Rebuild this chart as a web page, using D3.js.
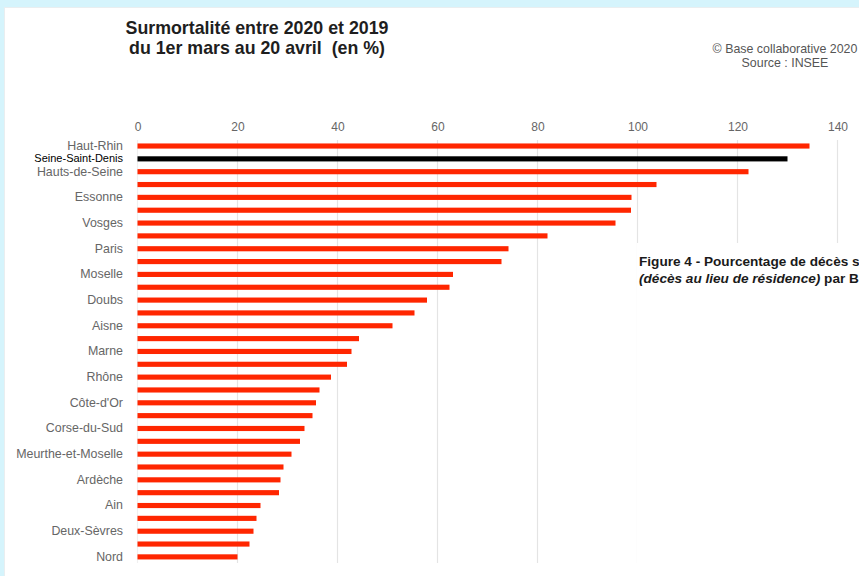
<!DOCTYPE html>
<html lang="fr">
<head>
<meta charset="utf-8">
<title>Surmortalité 2020 / 2019</title>
<script src="https://d3js.org/d3.v7.min.js"></script>
<style>
  html, body { margin: 0; padding: 0; background: #d5f4fc; }
  svg { display: block; font-family: "Liberation Sans", Arial, sans-serif; }
  .title { font-size: 17.8px; font-weight: bold; fill: #1e1e1e; white-space: pre; }
  .source { font-size: 12.4px; fill: #555; }
  .xaxis text { font-size: 12px; fill: #666; }
  .yaxis text { font-size: 12.4px; fill: #666; }
  .yaxis text.highlight { font-size: 11px; fill: #000; }
  .domain { display: none; }
  .grid line { stroke: #e4e4e4; stroke-width: 1.2; }
  .grid line.zero { stroke: #f0f0f0; }
  .caption { font-size: 13.6px; font-weight: bold; fill: #1a1a1a; }
</style>
</head>
<body>
<svg width="859" height="576"></svg>
<script>
// departements, top to bottom (unlabelled rows left blank like the source)
var categories = ["Haut-Rhin", "Seine-Saint-Denis", "Hauts-de-Seine", "", "Essonne", "", "Vosges", "",
  "Paris", "", "Moselle", "", "Doubs", "", "Aisne", "", "Marne", "", "Rhône", "",
  "Côte-d'Or", "", "Corse-du-Sud", "", "Meurthe-et-Moselle", "", "Ardèche", "", "Ain", "",
  "Deux-Sèvres", "", "Nord"];
var values = [134.4, 130.0, 122.2, 103.8, 98.8, 98.7, 95.6, 82.0, 74.2, 72.8,
  63.1, 62.4, 57.9, 55.4, 51.0, 44.3, 42.8, 41.9, 38.7, 36.4,
  35.7, 35.0, 33.4, 32.5, 30.8, 29.2, 28.6, 28.3, 24.6, 23.8,
  23.2, 22.4, 20.0];
var highlight = "Seine-Saint-Denis";
var xTicks = [0, 20, 40, 60, 80, 100, 120, 140];
var titleLines = ["Surmortalité entre 2020 et 2019", "du 1er mars au 20 avril  (en %)"];
var sourceLines = ["© Base collaborative 2020", "Source : INSEE"];

var rows = values.map(function (v, i) { return { i: i, name: categories[i], value: v }; });

var svg = d3.select("svg");

// white card on the pale blue page
svg.append("rect").attr("x", 4).attr("y", 7).attr("width", 860).attr("height", 580)
  .attr("fill", "#e9eef0");
svg.append("rect").attr("x", 5).attr("y", 8).attr("width", 860).attr("height", 580)
  .attr("fill", "#fff");

var x = d3.scaleLinear().domain([0, 140]).range([137.5, 837.5]);
var y = d3.scaleBand()
  .domain(rows.map(function (d) { return d.i; }))
  .range([139.6, 563.3])
  .paddingInner(0.6)
  .paddingOuter(0.3);

// vertical grid
svg.append("g").attr("class", "grid")
  .selectAll("line")
  .data(xTicks)
  .join("line")
  .attr("class", function (d) { return d === 0 ? "zero" : null; })
  .attr("x1", function (d) { return x(d); })
  .attr("x2", function (d) { return x(d); })
  .attr("y1", 140)
  .attr("y2", 563);

// top axis
svg.append("g").attr("class", "xaxis")
  .attr("transform", "translate(0,134)")
  .call(d3.axisTop(x).tickValues(xTicks).tickSize(0).tickPadding(3));

// left axis
var yAxis = svg.append("g").attr("class", "yaxis")
  .attr("transform", "translate(" + x(0) + ",0)")
  .call(d3.axisLeft(y).tickSize(0).tickPadding(14.5)
    .tickFormat(function (i) { return categories[i]; }));
yAxis.selectAll("text")
  .classed("highlight", function (i) { return categories[i] === highlight; });

// bars
svg.append("g")
  .selectAll("rect")
  .data(rows)
  .join("rect")
  .attr("x", x(0))
  .attr("y", function (d) { return y(d.i); })
  .attr("width", function (d) { return x(d.value) - x(0); })
  .attr("height", y.bandwidth())
  .attr("fill", function (d) { return d.name === highlight ? "#000" : "#ff2600"; });

// title
svg.append("text").attr("class", "title")
  .attr("text-anchor", "middle")
  .selectAll("tspan").data(titleLines).join("tspan")
  .attr("x", 257)
  .attr("y", function (d, i) { return 34 + i * 20; })
  .text(function (d) { return d; });

// source
svg.append("text").attr("class", "source")
  .attr("text-anchor", "middle")
  .selectAll("tspan").data(sourceLines).join("tspan")
  .attr("x", 785)
  .attr("y", function (d, i) { return 53 + i * 14; })
  .text(function (d) { return d; });

// pasted caption of the source document, cut at the right edge
svg.append("rect").attr("x", 637).attr("y", 243).attr("width", 230).attr("height", 330)
  .attr("fill", "#fff");
svg.append("text").attr("class", "caption")
  .attr("x", 639).attr("y", 266)
  .text("Figure 4 - Pourcentage de décès s");
var cap2 = svg.append("text").attr("class", "caption").attr("x", 639).attr("y", 283);
cap2.append("tspan").attr("font-style", "italic").text("(décès au lieu de résidence)");
cap2.append("tspan").text(" par B");
</script>
</body>
</html>
